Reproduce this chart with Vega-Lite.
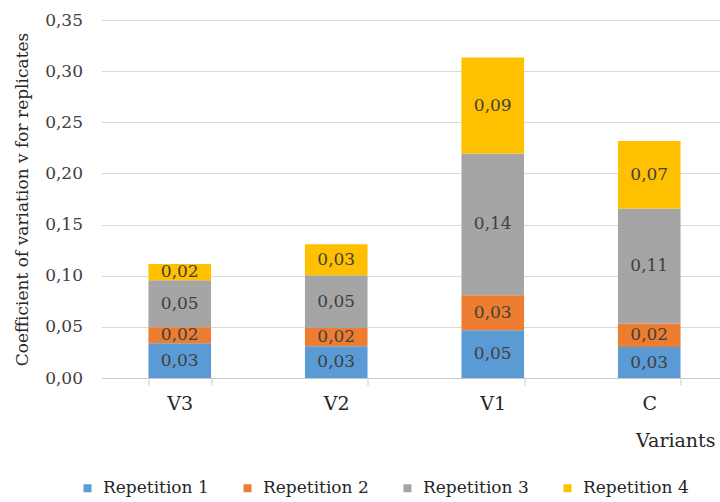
{
  "$schema": "https://vega.github.io/schema/vega-lite/v6.json",
  "autosize": {"type": "none"},
  "padding": {"left": 101.5, "top": 20, "right": 0, "bottom": 124},
  "width": 626,
  "height": 358,
  "background": "white",
  "data": {
    "values": [
      {"variant": "V3", "rep": "Repetition 1", "value": 0.034},
      {"variant": "V3", "rep": "Repetition 2", "value": 0.0155},
      {"variant": "V3", "rep": "Repetition 3", "value": 0.046},
      {"variant": "V3", "rep": "Repetition 4", "value": 0.016},
      {"variant": "V2", "rep": "Repetition 1", "value": 0.031},
      {"variant": "V2", "rep": "Repetition 2", "value": 0.018},
      {"variant": "V2", "rep": "Repetition 3", "value": 0.0515},
      {"variant": "V2", "rep": "Repetition 4", "value": 0.0303},
      {"variant": "V1", "rep": "Repetition 1", "value": 0.0466},
      {"variant": "V1", "rep": "Repetition 2", "value": 0.0343},
      {"variant": "V1", "rep": "Repetition 3", "value": 0.1385},
      {"variant": "V1", "rep": "Repetition 4", "value": 0.0939},
      {"variant": "C", "rep": "Repetition 1", "value": 0.0303},
      {"variant": "C", "rep": "Repetition 2", "value": 0.0229},
      {"variant": "C", "rep": "Repetition 3", "value": 0.1125},
      {"variant": "C", "rep": "Repetition 4", "value": 0.0661}
    ]
  },
  "encoding": {
    "x": {
      "field": "variant",
      "type": "nominal",
      "sort": ["V3", "V2", "V1", "C"],
      "scale": {"paddingInner": 0.6, "paddingOuter": 0.3},
      "axis": {
        "title": "Variants",
        "titleX": 613.5,
        "titleY": 62,
        "titleAlign": "right",
        "titleBaseline": "middle",
        "titleFontSize": 19,
        "titleFontWeight": "normal",
        "titleColor": "#262626",
        "labelAngle": 0,
        "labelFontSize": 19,
        "labelColor": "#262626",
        "labelPadding": 9,
        "tickBand": "extent",
        "tickSize": 7,
        "tickColor": "#c8c8c8",
        "domainColor": "#c8c8c8",
        "grid": false
      }
    }
  },
  "layer": [
    {
      "mark": {"type": "bar"},
      "encoding": {
        "y": {
          "field": "value",
          "type": "quantitative",
          "stack": "zero",
          "scale": {"domain": [0, 0.35]},
          "axis": {
            "title": "Coefficient of variation v for replicates",
            "values": [0, 0.05, 0.1, 0.15, 0.2, 0.25, 0.3, 0.35],
            "format": ".2f",
            "domain": false,
            "ticks": false,
            "tickSize": 0,
            "labelPadding": 19,
            "labelFontSize": 17,
            "labelColor": "#404040",
            "titleFontSize": 17,
            "titleFontWeight": "normal",
            "titleColor": "#262626",
            "titlePadding": 13,
            "gridColor": "#d9d9d9",
            "gridWidth": 1.2
          }
        },
        "color": {
          "field": "rep",
          "type": "nominal",
          "scale": {
            "domain": ["Repetition 1", "Repetition 2", "Repetition 3", "Repetition 4"],
            "range": ["#5b9bd5", "#ed7d31", "#a5a5a5", "#ffc000"]
          },
          "legend": {
            "orient": "none",
            "legendX": -22.5,
            "legendY": 459.5,
            "direction": "horizontal",
            "title": null,
            "symbolType": "square",
            "symbolSize": 64,
            "symbolStrokeWidth": 0,
            "labelFontSize": 17,
            "labelColor": "#262626",
            "labelOffset": 7,
            "labelLimit": 300,
            "columnPadding": 30
          }
        },
        "order": {"field": "rep", "sort": "ascending"}
      }
    },
    {
      "transform": [
        {"stack": "value", "groupby": ["variant"], "sort": [{"field": "rep", "order": "ascending"}], "as": ["y0", "y1"]},
        {"calculate": "(datum.y0 + datum.y1) / 2", "as": "mid"}
      ],
      "mark": {"type": "text", "fontSize": 17, "color": "#404040", "baseline": "middle", "align": "center"},
      "encoding": {
        "y": {
          "field": "mid",
          "type": "quantitative",
          "axis": {
            "title": "Coefficient of variation v for replicates",
            "values": [0, 0.05, 0.1, 0.15, 0.2, 0.25, 0.3, 0.35],
            "format": ".2f",
            "domain": false,
            "ticks": false,
            "tickSize": 0,
            "labelPadding": 19,
            "labelFontSize": 17,
            "labelColor": "#404040",
            "titleFontSize": 17,
            "titleFontWeight": "normal",
            "titleColor": "#262626",
            "titlePadding": 13,
            "gridColor": "#d9d9d9",
            "gridWidth": 1.2
          }
        },
        "text": {"field": "value", "type": "quantitative", "format": ".2f"}
      }
    }
  ],
  "config": {
    "font": "DejaVu Serif",
    "axis": {"labelFont": "DejaVu Serif", "titleFont": "DejaVu Serif"},
    "legend": {"labelFont": "DejaVu Serif", "titleFont": "DejaVu Serif"},
    "text": {"font": "DejaVu Serif"},
    "locale": {"number": {"decimal": ",", "thousands": " ", "grouping": [3], "currency": ["", ""]}},
    "view": {"stroke": null}
  }
}
